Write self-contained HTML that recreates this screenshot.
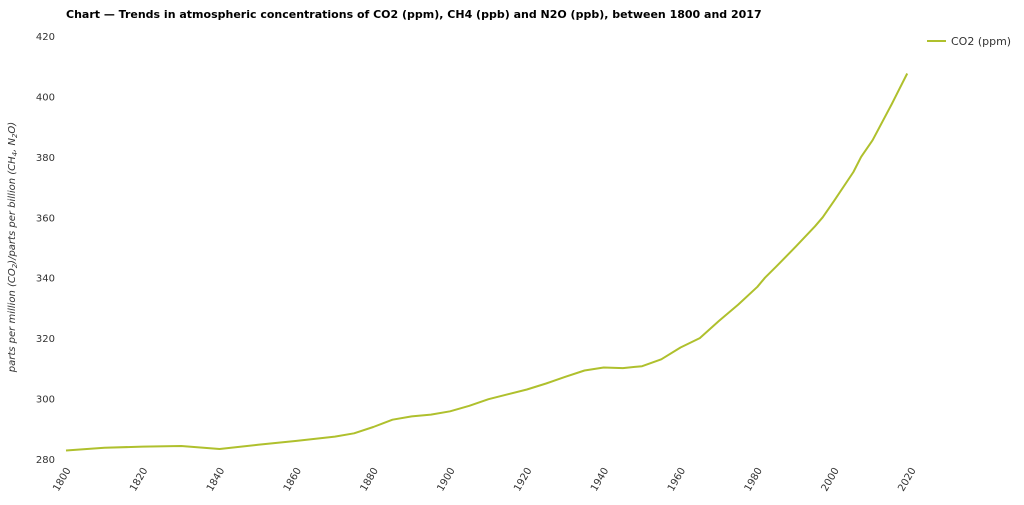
<!DOCTYPE html>
<html><head><meta charset="utf-8"><style>
html,body{margin:0;padding:0;background:#fff;}
svg{display:block;font-family:"DejaVu Sans","Liberation Sans",sans-serif;}
</style></head><body>
<svg id="chart" width="1024" height="505">
<text x="66" y="18" font-size="11" font-weight="bold" fill="#000">Chart — Trends in atmospheric concentrations of CO2 (ppm), CH4 (ppb) and N2O (ppb), between 1800 and 2017</text>
<text transform="translate(15,247) rotate(-90)" font-size="10" font-style="italic" fill="#333" text-anchor="middle">parts per million (CO<tspan font-size="7" dy="2">2</tspan><tspan dy="-2">)/parts per billion (CH</tspan><tspan font-size="7" dy="2">4</tspan><tspan dy="-2">, N</tspan><tspan font-size="7" dy="2">2</tspan><tspan dy="-2">O)</tspan></text>
<g id="yticks"></g><g id="xticks"></g>
<path id="line" fill="none" stroke="#afc02d" stroke-width="2" stroke-linejoin="round"></path>
<line x1="927" y1="41" x2="946" y2="41" stroke="#afc02d" stroke-width="2"></line>
<text x="951" y="45" font-size="11" fill="#333">CO2 (ppm)</text>
</svg>
<script>
const years=[1800,1810,1820,1830,1840,1850,1860,1870,1875,1880,1885,1890,1895,1900,1905,1910,1915,1920,1925,1930,1935,1940,1945,1950,1955,1960,1965,1970,1975,1980,1982,1985,1990,1995,1997,2000,2005,2007,2010,2015,2016,2019];
const co2=[282.8,283.7,284.1,284.3,283.3,284.7,286.0,287.4,288.5,290.6,293.0,294.1,294.7,295.8,297.6,299.8,301.4,303.0,305.0,307.2,309.3,310.3,310.1,310.7,313.0,316.9,320.0,325.7,331.1,337.0,340.0,343.8,350.3,357.0,360.0,365.5,375.0,380.0,385.5,397.5,400.0,407.6];
const yTicks=[280,300,320,340,360,380,400,420];
const xTicks=[1800,1820,1840,1860,1880,1900,1920,1940,1960,1980,2000,2020];
const NS="http://www.w3.org/2000/svg";
const xs=y=>66+(y-1800)*(911-66)/220;
const ys=v=>459-(v-280)*(459-36)/140;
const yg=document.getElementById('yticks');
yTicks.forEach(t=>{const e=document.createElementNS(NS,'text');


e.setAttribute('x',55);e.setAttribute('y',ys(t)+4);e.setAttribute('font-size','10');e.setAttribute('fill','#333');e.setAttribute('text-anchor','end');e.textContent=t;yg.appendChild(e);});
const xg=document.getElementById('xticks');
xTicks.forEach(t=>{const e=document.createElementNS(NS,'text');


const x=xs(t)+5,y=470;e.setAttribute('transform',`translate(${x},${y}) rotate(-60)`);e.setAttribute('font-size','10');e.setAttribute('fill','#333');e.setAttribute('text-anchor','end');e.textContent=t;xg.appendChild(e);});
document.getElementById('line').setAttribute('d',years.map((y,i)=>(i?'L':'M')+xs(y).toFixed(1)+','+ys(co2[i]).toFixed(1)).join(''));
</script>
</body></html>
